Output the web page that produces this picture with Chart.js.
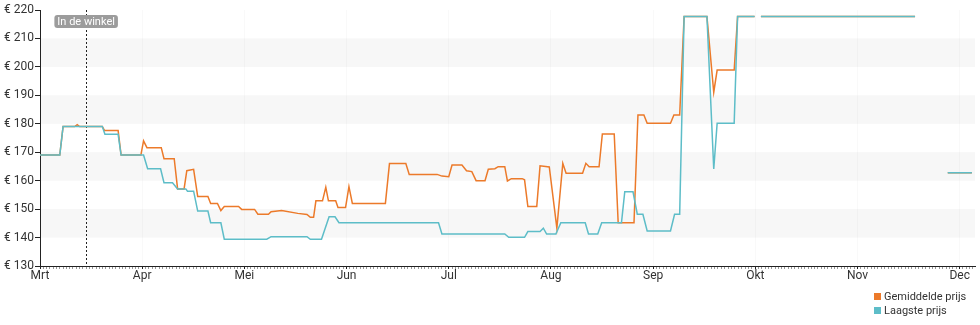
<!DOCTYPE html>
<html lang="nl">
<head>
<meta charset="utf-8">
<title>Prijsverloop</title>
<script src="https://cdn.jsdelivr.net/npm/chart.js@4.4.1/dist/chart.umd.min.js"></script>
<style>
    html, body { margin: 0; padding: 0; background: #fff; }
    #wrap { position: relative; width: 980px; height: 325px; }
    #legend {
        position: absolute; left: 874px; top: 290px;
        font: 11px Roboto, sans-serif; color: #333; line-height: 14px;
    }
    #legend div { white-space: nowrap; }
    #legend span { display: inline-block; width: 7px; height: 7px; margin-right: 3px; }
</style>
</head>
<body>
<div id="wrap">
    <canvas id="price-chart" width="980" height="325"></canvas>
    <div id="legend"></div>
</div>
<script>
// Maanden op de x-as (iedere maand even breed)
const months = ['Mrt', 'Apr', 'Mei', 'Jun', 'Jul', 'Aug', 'Sep', 'Okt', 'Nov', 'Dec'];
const monthDays = [31, 30, 31, 30, 31, 31, 30, 31, 30, 31];
const priceTicks = [130, 140, 150, 160, 170, 180, 190, 200, 210, 220];

// [dag sinds 1 maart, prijs in euro], null = geen prijs bekend
const avgPrice = [
    [0, 169], [6, 169], [7, 179], [10.5, 179], [11.3, 179.7], [12, 179], [18.9, 179],
    [19.6, 177.6], [23.7, 177.6], [24.6, 169], [30.6, 169], [31.4, 174], [32.4, 171.6],
    [36.6, 171.6], [37.4, 167.7], [40.4, 167.7], [41.4, 157.1], [43.3, 157.1], [44.1, 163.5],
    [46.1, 164], [47.3, 154.4], [50.3, 154.4], [51.1, 152], [53.1, 152], [54.1, 149.5],
    [55.1, 150.9], [59.3, 150.9], [60.2, 149.9], [64.1, 149.9], [65.1, 148.2], [68.3, 148.2],
    [69.1, 149.1], [72.3, 149.5], [77.2, 148.5], [80, 148.1], [81, 147.1], [82, 147.1],
    [82.7, 152.9], [84.7, 152.9], [85.7, 157.7], [86.5, 152.9], [88.7, 152.9], [89.4, 150.6],
    [91.7, 150.6], [92.7, 157.9], [93.7, 152], [103.4, 152], [104.6, 166], [109.4, 166],
    [110.4, 162.2], [118.6, 162.2], [120, 161.6], [122, 161.4], [123, 165.5], [126, 165.5],
    [127.4, 163.5], [129, 163.2], [130.3, 160], [133, 160], [134, 164], [136, 164.2],
    [137, 164.9], [139, 164.9], [139.8, 159.9], [141, 160.7], [144.3, 160.7], [145, 160.3],
    [146, 150.9], [148.7, 150.9], [149.7, 165.2], [152.5, 164.8], [154.8, 143.3], [156.6, 166.1],
    [157.6, 162.6], [162.6, 162.6], [163.6, 166.1], [164.6, 164.9], [167.6, 164.9], [168.6, 176.4],
    [172.2, 176.4], [173.4, 145.2], [178.2, 145.2], [179.4, 183.1], [181.2, 183.1], [182.2, 180.2],
    [189.1, 180.2], [190.1, 183.1], [191.8, 183.1], [193.1, 217.7], [199.8, 217.7], [201.8, 191.1],
    [202.8, 198.9], [207.8, 198.9], [208.8, 217.7], [213.8, 217.7], [214.7, null], [215.7, 217.7],
    [261.9, 217.7], [266, null], [271.5, 162.8], [278.7, 162.8]
];

const lowPrice = [
    [0, 169], [6, 169], [7, 179], [18.9, 179], [19.7, 176.3], [23.7, 176.3], [24.6, 169],
    [31.4, 169], [32.6, 164.2], [36.4, 164.2], [37.4, 159.3], [39.9, 159.3], [41.4, 157.1],
    [43.8, 157.1], [44.3, 156.3], [46.1, 156.3], [47.3, 149.3], [50.3, 149.3], [51.1, 145.2],
    [54.1, 145.2], [55.1, 139.4], [67.8, 139.4], [69.1, 140.3], [80, 140.3], [81, 139.4],
    [84.4, 139.4], [86.7, 147.3], [88.5, 147.3], [89.7, 145.2], [119, 145.2], [120, 141.25],
    [139, 141.25], [140.2, 140.1], [145, 140.1], [146, 142.1], [149.7, 142.1], [150.7, 143.3],
    [151.7, 141.25], [154.5, 141.25], [156, 145.2], [163.4, 145.2], [164.4, 141.25], [167.2, 141.25],
    [168.4, 145.2], [174.4, 145.2], [175.4, 156.1], [177.9, 156.1], [179.2, 148.2], [180.9, 148.2],
    [182.2, 142.3], [189.1, 142.3], [190.3, 148.2], [191.8, 148.2], [193.1, 217.7], [199.8, 217.7],
    [201.8, 164.1], [202.8, 180.2], [207.8, 180.2], [208.8, 217.7], [213.8, 217.7], [214.7, null],
    [215.7, 217.7], [261.9, 217.7], [266, null], [271.5, 162.8], [278.7, 162.8]
];

// dag waarop het product in de winkel kwam
const storeDay = 14;
const xMax = 9.15;

const FONT = 'Roboto, sans-serif';

// dag sinds 1 maart -> positie in maanden
function toPos(day) {
    let start = 0;
    for (let i = 0; i < monthDays.length; i++) {
        if (day < start + monthDays[i]) return i + (day - start) / monthDays[i];
        start += monthDays[i];
    }
    return monthDays.length;
}

function toPoints(series) {
    return series.map(([day, price]) => ({ x: toPos(day), y: price }));
}

// een streepje per dag, maandbegin op hele getallen
function dayTicks() {
    const ticks = [];
    monthDays.forEach((len, i) => {
        for (let k = 0; k < len; k++) {
            const v = k === 0 ? i : i + k / len;
            if (v <= xMax) ticks.push({ value: v });
        }
    });
    return ticks;
}

const bandPlugin = {
    id: 'bands',
    beforeDraw(chart) {
        const { ctx, chartArea: a, scales: { y } } = chart;
        ctx.save();
        ctx.fillStyle = '#f7f7f7';
        for (let i = 1; i < priceTicks.length - 1; i += 2) {
            const top = y.getPixelForValue(priceTicks[i + 1]);
            const bottom = y.getPixelForValue(priceTicks[i]);
            ctx.fillRect(a.left, top, a.right - a.left, bottom - top);
        }
        ctx.restore();
    }
};

const storePlugin = {
    id: 'store',
    beforeDatasetsDraw(chart) {
        const { ctx, chartArea: a, scales: { x } } = chart;
        const px = Math.round(x.getPixelForValue(toPos(storeDay))) + 0.5;
        ctx.save();
        ctx.strokeStyle = '#222';
        ctx.lineWidth = 1;
        ctx.setLineDash([2, 2]);
        ctx.beginPath();
        ctx.moveTo(px, a.top);
        ctx.lineTo(px, a.bottom);
        ctx.stroke();
        ctx.restore();
    },
    afterDatasetsDraw(chart) {
        const { ctx, chartArea: a, scales: { x } } = chart;
        const px = x.getPixelForValue(toPos(storeDay));
        const text = 'In de winkel';
        ctx.save();
        ctx.font = '11px ' + FONT;
        const w = ctx.measureText(text).width + 6;
        ctx.fillStyle = '#9c9c9c';
        ctx.beginPath();
        ctx.roundRect(px - w / 2, a.top + 5, w, 13, 3);
        ctx.fill();
        ctx.fillStyle = '#fff';
        ctx.textAlign = 'center';
        ctx.textBaseline = 'middle';
        ctx.fillText(text, px, a.top + 12);
        ctx.restore();
    }
};

const chart = new Chart(document.getElementById('price-chart'), {
    type: 'line',
    data: {
        datasets: [{
            label: 'Gemiddelde prijs',
            data: toPoints(avgPrice),
            borderColor: '#ec7a2a',
            backgroundColor: '#ec7a2a',
            order: 2
        }, {
            label: 'Laagste prijs',
            data: toPoints(lowPrice),
            borderColor: '#5dbdc8',
            backgroundColor: '#5dbdc8',
            order: 1
        }]
    },
    options: {
        responsive: false,
        animation: false,
        devicePixelRatio: 1,
        spanGaps: false,
        elements: {
            line: { borderWidth: 1.5, tension: 0 },
            point: { radius: 0, hoverRadius: 0 }
        },
        layout: { padding: { top: 10, right: 5, left: 0, bottom: 0 } },
        plugins: {
            legend: { display: false },
            tooltip: { enabled: false }
        },
        scales: {
            x: {
                type: 'linear',
                min: 0,
                max: xMax,
                afterBuildTicks: s => { s.ticks = dayTicks(); },
                afterFit: s => { s.height = 59; },
                ticks: {
                    autoSkip: false,
                    maxRotation: 0,
                    padding: 0,
                    color: '#333',
                    font: { family: FONT, size: 12 },
                    callback: v => Number.isInteger(v) ? months[v] : ''
                },
                grid: {
                    drawOnChartArea: true,
                    tickLength: 3,
                    color: c => (c.tick && Number.isInteger(c.tick.value)) ? 'rgba(0,0,0,0.025)' : 'rgba(0,0,0,0)',
                    tickColor: c => (c.tick && Number.isInteger(c.tick.value)) ? '#222' : '#999'
                },
                border: { color: '#222', width: 1 }
            },
            y: {
                min: 130,
                max: 220,
                afterBuildTicks: s => { s.ticks = priceTicks.map(v => ({ value: v })); },
                afterFit: s => { s.width = 40; },
                ticks: {
                    padding: 1,
                    color: '#333',
                    font: { family: FONT, size: 12 },
                    callback: v => '€ ' + v
                },
                grid: { drawOnChartArea: false, tickLength: 5, tickColor: '#222' },
                border: { color: '#222', width: 1 }
            }
        }
    },
    plugins: [bandPlugin, storePlugin]
});

// legenda onder elkaar, rechtsonder
document.getElementById('legend').innerHTML = chart.data.datasets.map(ds =>
    `<div><span style="background:${ds.borderColor}"></span>${ds.label}</div>`
).join('');
</script>
</body>
</html>
